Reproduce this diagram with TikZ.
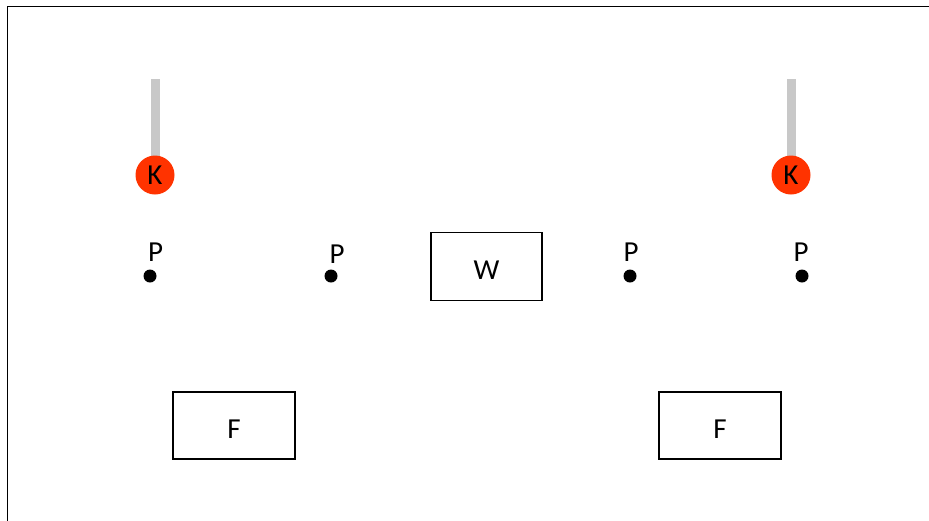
\documentclass[tikz,border=0pt]{standalone}
\usepackage{fontspec}
\setmainfont{Carlito}
\usepackage{xcolor}
\definecolor{kred}{RGB}{255,51,0}
\definecolor{bargray}{RGB}{200,200,200}

\begin{document}
\begin{tikzpicture}[x=1pt, y=-1pt,
	keeper/.style={circle, fill=kred, minimum size=39pt, inner sep=0pt,
		font=\fontsize{29}{33}\selectfont},
	player/.style={circle, fill=black, minimum size=13pt, inner sep=0pt},
	plabel/.style={inner sep=0pt, font=\fontsize{29}{33}\selectfont},
	zone/.style={draw=black, line width=1.2pt, inner sep=0pt,
		text height=26pt, text depth=0pt,
		font=\fontsize{29}{33}\selectfont},
	bar/.style={draw=bargray, line width=9pt}]
	\useasboundingbox (0,0) rectangle (929,520);
	\draw[line width=1.5pt] (7.5,540) -- (7.5,6.5) -- (940,6.5);
	% keepers
	\coordinate (b1) at (155,79);
	\coordinate (b2) at (791,79);
	\draw (155,175) coordinate (k1c);
	\draw (791,175) coordinate (k2c);
	\draw[bar] (b1) -- (k1c);
	\draw[bar] (b2) -- (k2c);
	\draw (k1c) node[keeper] (k1) {K};
	\draw (k2c) node[keeper] (k2) {K};
	% players
	\draw (150,276) node[player] (p1) {};
	\draw (331,276) node[player] (p2) {};
	\draw (630,276) node[player] (p3) {};
	\draw (802,276) node[player] (p4) {};
	\draw (155.5,252) node[plabel] (l1) {P};
	\draw (337,254) node[plabel] (l2) {P};
	\draw (631,252) node[plabel] (l3) {P};
	\draw (801,252) node[plabel] (l4) {P};
	% boxes
	\draw (486.5,266.5) node[zone, minimum width=111pt, minimum height=68pt] (w) {W};
	\draw (234,425.5) node[zone, minimum width=122pt, minimum height=67pt] (f1) {F};
	\draw (720,425.5) node[zone, minimum width=122pt, minimum height=67pt] (f2) {F};
\end{tikzpicture}
\end{document}
